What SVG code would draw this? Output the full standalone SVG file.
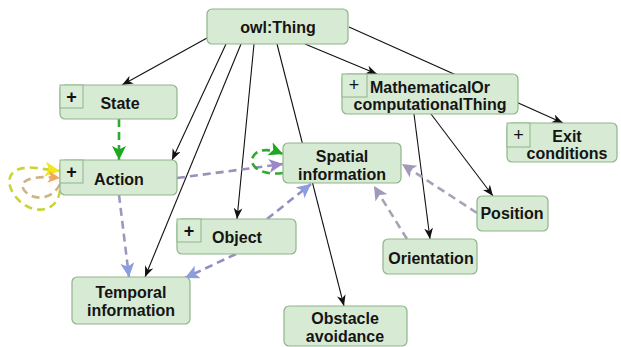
<svg xmlns="http://www.w3.org/2000/svg" width="621" height="347" viewBox="0 0 621 347">
  <style>
    .box { fill: #d7eAd3; stroke: #8fb58a; stroke-width: 1.2; }
    .pbox { fill: #d9ecd5; stroke: #8fb58a; stroke-width: 1; }
    .lbl { font-family: "Liberation Sans", Arial, sans-serif; font-weight: bold; font-size: 16px; fill: #141414; text-anchor: middle; }
    .plus { font-family: "Liberation Sans", Arial, sans-serif; font-weight: bold; font-size: 18px; fill: #111; text-anchor: middle; }
    .plus.thin { font-weight: normal; }
    .sub { fill: none; stroke: #111; stroke-width: 1.1; marker-end: url(#a-black); }
    .dash { fill: none; stroke-width: 2.6; stroke-dasharray: 8 5; }
  </style>
  <defs>
    <marker id="a-black" viewBox="0 0 10 8" refX="10" refY="4" markerWidth="11" markerHeight="9" markerUnits="userSpaceOnUse" orient="auto">
      <path d="M0,0 L10,4 L0,8 L3,4 Z" fill="#111"/>
    </marker>
    <marker id="a-green" viewBox="0 0 12 12" refX="12" refY="6" markerWidth="14" markerHeight="14" markerUnits="userSpaceOnUse" orient="auto">
      <path d="M0,0 L12,6 L0,12 L3,6 Z" fill="#1fa81f"/>
    </marker>
    <marker id="a-purple" viewBox="0 0 12 12" refX="12" refY="6" markerWidth="14" markerHeight="14" markerUnits="userSpaceOnUse" orient="auto">
      <path d="M0,0 L12,6 L0,12 L3,6 Z" fill="#9a88cc"/>
    </marker>
    <marker id="a-blue" viewBox="0 0 12 12" refX="12" refY="6" markerWidth="14" markerHeight="14" markerUnits="userSpaceOnUse" orient="auto">
      <path d="M0,0 L12,6 L0,12 L3,6 Z" fill="#8b9de0"/>
    </marker>
    <marker id="a-gray" viewBox="0 0 12 12" refX="12" refY="6" markerWidth="14" markerHeight="14" markerUnits="userSpaceOnUse" orient="auto">
      <path d="M0,0 L12,6 L0,12 L3,6 Z" fill="#a298b8"/>
    </marker>
    <marker id="a-yellow" viewBox="0 0 12 12" refX="12" refY="6" markerWidth="15" markerHeight="15" markerUnits="userSpaceOnUse" orient="auto">
      <path d="M0,0 L12,6 L0,12 L3,6 Z" fill="#f2e61c"/>
    </marker>
    <marker id="a-orange" viewBox="0 0 12 12" refX="12" refY="6" markerWidth="12" markerHeight="12" markerUnits="userSpaceOnUse" orient="auto">
      <path d="M0,0 L12,6 L0,12 L3,6 Z" fill="#f0a860"/>
    </marker>
  </defs>

  <g id="connectors">
    <!-- subclass links -->
    <path class="sub" d="M207 38 L122 85"/>
    <path class="sub" d="M226 44 L172 160"/>
    <path class="sub" d="M241 44 L145 277"/>
    <path class="sub" d="M254 44 L237 219"/>
    <path class="sub" d="M277 44 L344 306"/>
    <path class="sub" d="M305 44 L377 74"/>
    <path class="sub" d="M349 27 L563 123"/>
    <path class="sub" d="M431 114 L493 196"/>
    <path class="sub" d="M414 114 L430 239"/>

    <!-- object properties -->
    <path class="dash" stroke="#2eaa2e" marker-end="url(#a-green)" d="M119 119 L119 160"/>
    <path class="dash" stroke="#9a9ac0" marker-end="url(#a-blue)" d="M119 195 L129 277"/>
    <path class="dash" stroke="#9a90b8" marker-end="url(#a-purple)" d="M177 178 L283 164"/>
    <path class="dash" stroke="#2eaa2e" marker-end="url(#a-green)" d="M283 173 C 262 176, 248 166, 253 157 C 257 149, 268 148, 283 154"/>
    <path class="dash" stroke="#9090c4" marker-end="url(#a-blue)" d="M267 219 L311 184"/>
    <path class="dash" stroke="#9090c4" marker-end="url(#a-blue)" d="M236 254 L185 278"/>
    <path class="dash" stroke="#a6a2b4" marker-end="url(#a-gray)" d="M407 239 L374 186"/>
    <path class="dash" stroke="#aaa0b8" marker-end="url(#a-gray)" d="M477 213 L402 164"/>
    <path class="dash" stroke="#c8d43a" marker-end="url(#a-yellow)" d="M60 190 C 58 214, 30 216, 15 196 C 2 178, 12 165, 36 168 L60 171"/>
    <path class="dash" stroke="#d0b486" marker-end="url(#a-orange)" d="M60 184 C 52 201, 32 201, 24 190 C 18 180, 32 175, 60 178"/>
  </g>

  <g id="owl-thing">
    <rect class="box" x="207" y="9" width="141" height="35" rx="5"/>
    <text class="lbl" x="278" y="33">owl:Thing</text>
  </g>

  <g id="state">
    <rect class="box" x="60" y="85" width="117" height="34" rx="5"/>
    <rect class="pbox" x="60" y="85" width="23" height="23"/>
    <text class="plus" x="71.5" y="103">+</text>
    <text class="lbl" x="120" y="109">State</text>
  </g>

  <g id="action">
    <rect class="box" x="60" y="160" width="117" height="35" rx="5"/>
    <rect class="pbox" x="60" y="160" width="23" height="23"/>
    <text class="plus" x="71.5" y="178">+</text>
    <text class="lbl" x="119" y="185">Action</text>
  </g>

  <g id="spatial-information">
    <rect class="box" x="283" y="143" width="118" height="40" rx="5"/>
    <text class="lbl" x="342" y="162">Spatial</text>
    <text class="lbl" x="342" y="180">information</text>
  </g>

  <g id="object">
    <rect class="box" x="177" y="219" width="119" height="35" rx="5"/>
    <rect class="pbox" x="177" y="219" width="24" height="23"/>
    <text class="plus" x="189" y="237">+</text>
    <text class="lbl" x="237" y="243">Object</text>
  </g>

  <g id="temporal-information">
    <rect class="box" x="72" y="277" width="118" height="47" rx="5"/>
    <text class="lbl" x="131" y="298">Temporal</text>
    <text class="lbl" x="131" y="316">information</text>
  </g>

  <g id="obstacle-avoidance">
    <rect class="box" x="284" y="306" width="123" height="40" rx="5"/>
    <text class="lbl" x="345" y="324">Obstacle</text>
    <text class="lbl" x="345" y="342">avoidance</text>
  </g>

  <g id="mathematical-or-computational-thing">
    <rect class="box" x="342" y="74" width="176" height="40" rx="5"/>
    <rect class="pbox" x="342" y="74" width="25" height="23"/>
    <text class="plus thin" x="354" y="91">+</text>
    <text class="lbl" x="430" y="93">MathematicalOr</text>
    <text class="lbl" x="430" y="110">computationalThing</text>
  </g>

  <g id="exit-conditions">
    <rect class="box" x="507" y="123" width="110" height="39" rx="5"/>
    <rect class="pbox" x="507" y="123" width="23" height="24"/>
    <text class="plus thin" x="518.5" y="141">+</text>
    <text class="lbl" x="567" y="142">Exit</text>
    <text class="lbl" x="567" y="159">conditions</text>
  </g>

  <g id="position">
    <rect class="box" x="477" y="196" width="71" height="35" rx="5"/>
    <text class="lbl" x="512" y="219">Position</text>
  </g>

  <g id="orientation">
    <rect class="box" x="383" y="239" width="94" height="35" rx="5"/>
    <text class="lbl" x="431" y="264">Orientation</text>
  </g>
</svg>
